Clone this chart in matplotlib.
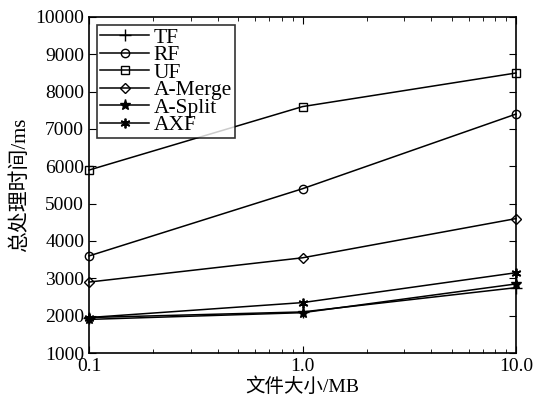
import matplotlib
matplotlib.use("Agg")
import matplotlib.pyplot as plt
from matplotlib.ticker import FixedLocator, FixedFormatter, NullFormatter, LogLocator

plt.rcParams['font.family'] = ['Liberation Serif', 'Noto Sans CJK SC']
plt.rcParams['mathtext.fontset'] = 'stix'

x = [0.1, 1.0, 10.0]
series_names = ['TF', 'RF', 'UF', 'A-Merge', 'A-Split', 'AXF']
tf = [1950, 2100, 2750]
rf = [3600, 5400, 7400]
uf = [5900, 7600, 8500]
amerge = [2900, 3550, 4600]
asplit = [1900, 2080, 2850]
axf = [1950, 2350, 3150]
markers = ['+', 'o', 's', 'D', '*', (6, 2, 0)]
xtick_labels = ['0.1', '1.0', '10.0']
yticks = list(range(1000, 10001, 1000))

fig = plt.figure(figsize=(5.47, 4.0), dpi=100)
ax = fig.add_axes([89/547, 1 - 353/400, (516-89)/547, (353-17)/400])

data = [tf, rf, uf, amerge, asplit, axf]
for name, vals, m in zip(series_names, data, markers):
    kw = dict(color='black', lw=1.1, marker=m, label=name)
    if m == '*':
        kw.update(markersize=8, markerfacecolor='black')
    elif isinstance(m, tuple):
        kw.update(markersize=7, markeredgewidth=1.3)
    elif m == '+':
        kw.update(markersize=8)
    elif m == 'D':
        kw.update(markersize=5.5, markerfacecolor='none')
    else:
        kw.update(markersize=6, markerfacecolor='none')
    ax.plot(x, vals, clip_on=False, **kw)

ax.set_xscale('log')
ax.set_xlim(0.1, 10)
ax.set_ylim(1000, 10000)
ax.xaxis.set_major_locator(FixedLocator(x))
ax.xaxis.set_major_formatter(FixedFormatter(xtick_labels))
ax.xaxis.set_minor_locator(LogLocator(base=10, subs=range(2, 10)))
ax.xaxis.set_minor_formatter(NullFormatter())
ax.set_yticks(yticks)
ax.tick_params(which='both', direction='in', top=True, right=True, labelsize=14)
ax.tick_params(which='major', length=5)
ax.tick_params(which='minor', length=3)
for s in ax.spines.values():
    s.set_linewidth(1.2)

ax.set_xlabel('文件大小/MB', fontsize=14, labelpad=2)
ax.set_ylabel('总处理时间/ms', fontsize=15, labelpad=4)

leg = ax.legend(loc='upper left', fontsize=15.5, frameon=True, fancybox=False,
                edgecolor='black', borderpad=0.15, labelspacing=-0.12,
                handlelength=2.3, handletextpad=0.2, borderaxespad=0.35)
leg.get_frame().set_linewidth(1.2)

fig.savefig('out.png', dpi=100)
